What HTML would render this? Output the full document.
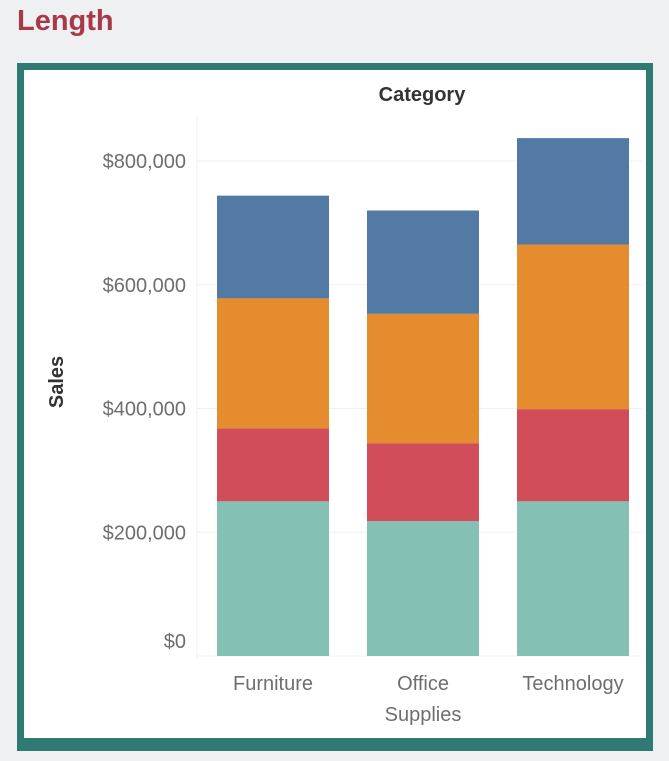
<!DOCTYPE html>
<html><head><meta charset="utf-8">
<style>
html,body{margin:0;padding:0;}
body{width:669px;height:761px;background:#eef0f1;position:relative;overflow:hidden;font-family:"Liberation Sans",sans-serif;}
#title{position:absolute;left:17px;top:5px;font-size:29px;font-weight:bold;color:#a8394a;}
#frame{position:absolute;left:17px;top:63px;width:622px;height:668px;border:7px solid #2f7a72;border-bottom-width:13px;background:#fff;}
svg{position:absolute;left:0;top:0;}
</style></head>
<body>
<div id="title">Length</div>
<div id="frame"></div>
<svg id="chart" width="669" height="761"></svg>
<script>
const categories = ["Furniture", "Office Supplies", "Technology"];
const seriesTeal = [250000, 218000, 250000];
const seriesRed = [118000, 126000, 149000];
const seriesOrange = [210000, 209000, 266000];
const seriesBlue = [166000, 167000, 172000];
const tickValues = [0, 200000, 400000, 600000, 800000];
const tickLabels = ["$0", "$200,000", "$400,000", "$600,000", "$800,000"];

const NS = "http://www.w3.org/2000/svg";
const svg = document.getElementById('chart');
const y0 = 656, pxPer = 0.00061875;
function yScale(v){ return y0 - v * pxPer; }
function xScale(i){ return 217 + i * 150; }
const barW = 112;
function mk(tag, attrs, parent){
  const e = document.createElementNS(NS, tag);
  for (const k in attrs) e.setAttribute(k, attrs[k]);
  (parent || svg).appendChild(e);
  return e;
}
tickValues.forEach((v, i) => {
  const y = yScale(v);
  const g = mk('line', {x1:197, x2:642, y1:y, y2:y, stroke:'#f0f0f0', 'stroke-width':1});
  
  
  const off = (v === 0) ? -8 : 7;
  const t = mk('text', {x:186, y:y+off, 'text-anchor':'end', 'font-size':20, fill:'#6e6e6e'});
  t.textContent = tickLabels[i];
  
  
});
const ax = mk('line', {x1:197, x2:197, y1:115, y2:660, stroke:'#f0f0f0', 'stroke-width':1});



const series = [
  {vals: seriesTeal, color:'#84c0b3', name:'teal'},
  {vals: seriesRed, color:'#d14d5a', name:'red'},
  {vals: seriesOrange, color:'#e58c2e', name:'orange'},
  {vals: seriesBlue, color:'#527aa5', name:'blue'}
];
categories.forEach((c, i) => {
  let base = 0;
  series.forEach(s => {
    const v = s.vals[i];
    const yt = yScale(base + v), yb = yScale(base);
    const r = mk('rect', {x:xScale(i), y:yt, width:barW, height:yb - yt, fill:s.color});
    
    
    base += v;
  });
  const words = c.split(' ');
  const cx = xScale(i) + barW/2;
  const lbl = mk('text', {x:cx, y:690, 'text-anchor':'middle', 'font-size':20, fill:'#6e6e6e'});
  
  
  if (words.length > 1 && i === 1) {
    const a = mk('tspan', {x:cx, dy:0}, lbl); a.textContent = words[0];
    const b = mk('tspan', {x:cx, dy:31}, lbl); b.textContent = words[1];
  } else lbl.textContent = c;
});
const ct = mk('text', {x:422, y:101, 'text-anchor':'middle', 'font-size':20, 'font-weight':'bold', fill:'#333'});
ct.textContent = 'Category';


const yt = mk('text', {x:0, y:0, 'text-anchor':'middle', 'font-size':20, 'font-weight':'bold', fill:'#333', transform:'translate(63,382) rotate(-90)'});
yt.textContent = 'Sales';


</script>
</body></html>
